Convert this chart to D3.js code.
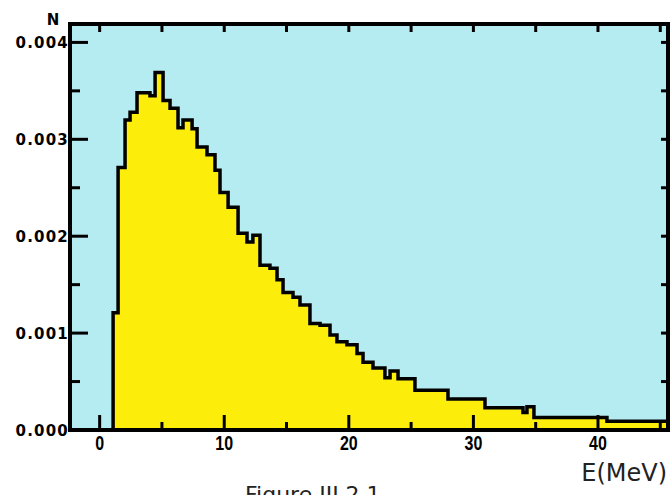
<!DOCTYPE html>
<html>
<head>
<meta charset="utf-8">
<script src="https://cdn.jsdelivr.net/npm/d3@7/dist/d3.min.js"></script>
<style>
  html, body { margin: 0; padding: 0; background: #ffffff; }
  svg { display: block; }
</style>
</head>
<body>
<svg id="chart" width="670" height="495"></svg>
<script>
// Energy spectrum: bin edges (MeV) and normalised counts per bin
const binEdges = [1.08, 1.48, 2.04, 2.44, 3.00, 4.04, 4.45, 5.09, 5.65, 6.29,
                  6.69, 7.42, 7.82, 8.62, 9.26, 9.66, 10.31, 11.11, 11.83, 12.30,
                  12.87, 13.67, 14.24, 14.72, 15.52, 16.08, 16.88, 17.69, 18.49, 19.05,
                  19.85, 20.66, 21.14, 21.94, 22.90, 23.31, 23.95, 25.31, 27.96, 30.93,
                  33.98, 34.30, 34.86, 40.72, 46.00];
const binCounts = [0.00121, 0.00271, 0.00320, 0.00328, 0.00348, 0.00345, 0.00369, 0.00340, 0.00332, 0.00312,
                   0.00320, 0.00311, 0.00292, 0.00284, 0.00268, 0.00245, 0.00230, 0.00203, 0.00194, 0.00201,
                   0.00170, 0.00167, 0.00155, 0.00142, 0.00137, 0.00129, 0.00110, 0.00108, 0.00098, 0.00091,
                   0.00088, 0.00079, 0.00070, 0.00064, 0.00054, 0.00061, 0.00053, 0.00041, 0.00032, 0.00023,
                   0.00018, 0.00024, 0.00013, 0.00009];

// Axis ticks and labels
const xMajorTicks = [0, 10, 20, 30, 40];
const xTickLabels = ["0", "10", "20", "30", "40"];
const xMinorTicks = [5, 15, 25, 35, 45];
const xTopTicks = [0, 5, 10, 15, 20, 25, 30, 35, 40, 45];
const yMajorTicks = [0, 0.001, 0.002, 0.003, 0.004];
const yTickLabels = ["0.000", "0.001", "0.002", "0.003", "0.004"];
const yMinorTicks = [0.0005, 0.0015, 0.0025, 0.0035];
const yAllTicks = [0.0005, 0.001, 0.0015, 0.002, 0.0025, 0.003, 0.0035, 0.004];

const yAxisTitle = "N";
const xAxisTitle = "E(MeV)";
const caption = "Figure III.2.1";

const svg = d3.select("#chart");
const plot = { left: 70, top: 24, right: 668, bottom: 430 };

const x = d3.scaleLinear().domain([-2.38, 45.62]).range([plot.left, plot.right]);
const y = d3.scaleLinear().domain([0, 0.00419]).range([plot.bottom, plot.top]);

// Plot background
svg.append("rect")
  .attr("x", plot.left).attr("y", plot.top)
  .attr("width", plot.right - plot.left).attr("height", plot.bottom - plot.top)
  .attr("fill", "#b5ecf1");

svg.append("clipPath").attr("id", "plotClip")
  .append("rect")
  .attr("x", plot.left).attr("y", plot.top)
  .attr("width", plot.right - plot.left).attr("height", plot.bottom - plot.top);

// Step points: one per bin plus the closing edge
const steps = binCounts.map((v, i) => [binEdges[i], v]);
steps.push([binEdges[binEdges.length - 1], binCounts[binCounts.length - 1]]);

const area = d3.area()
  .x(d => x(d[0])).y0(y(0)).y1(d => y(d[1]))
  .curve(d3.curveStepAfter);

const line = d3.line()
  .x(d => x(d[0])).y(d => y(d[1]))
  .curve(d3.curveStepAfter);

const g = svg.append("g").attr("clip-path", "url(#plotClip)");
g.append("path").datum(steps).attr("d", area).attr("fill", "#fcee0a");
g.append("path").datum([[binEdges[0], 0]].concat(steps))
  .attr("d", line)
  .attr("fill", "none").attr("stroke", "#000").attr("stroke-width", 3.5)
  .attr("stroke-linejoin", "miter");

// Ticks (all pointing into the plot)
const ticks = svg.append("g").attr("stroke", "#000").attr("stroke-width", 3);
ticks.selectAll(".xmaj").data(xMajorTicks).join("line")
  .attr("x1", d => x(d)).attr("x2", d => x(d))
  .attr("y1", plot.bottom).attr("y2", plot.bottom - 15);
ticks.selectAll(".xmin").data(xMinorTicks).join("line")
  .attr("x1", d => x(d)).attr("x2", d => x(d))
  .attr("y1", plot.bottom).attr("y2", plot.bottom - 8);
ticks.selectAll(".xtop").data(xTopTicks).join("line")
  .attr("x1", d => x(d)).attr("x2", d => x(d))
  .attr("y1", plot.top).attr("y2", plot.top + 8);
ticks.selectAll(".ymaj").data(yMajorTicks).join("line")
  .attr("x1", plot.left).attr("x2", plot.left + 18)
  .attr("y1", d => y(d)).attr("y2", d => y(d));
ticks.selectAll(".ymin").data(yMinorTicks).join("line")
  .attr("x1", plot.left).attr("x2", plot.left + 10)
  .attr("y1", d => y(d)).attr("y2", d => y(d));
ticks.selectAll(".yright").data(yAllTicks).join("line")
  .attr("x1", plot.right).attr("x2", plot.right - 7)
  .attr("y1", d => y(d)).attr("y2", d => y(d));

// Frame
svg.append("rect")
  .attr("x", plot.left).attr("y", plot.top)
  .attr("width", plot.right - plot.left).attr("height", plot.bottom - plot.top)
  .attr("fill", "none").attr("stroke", "#000").attr("stroke-width", 4);

// Tick labels
svg.append("g").selectAll("text").data(yMajorTicks).join("text")
  .attr("x", plot.left - 1).attr("y", d => y(d) + 5.5)
  .attr("text-anchor", "end")
  .attr("font-family", "DejaVu Sans, sans-serif")
  .attr("font-weight", "bold").attr("font-size", 15)
  .attr("letter-spacing", 1.2)
  .attr("fill", "#000")
  .text((d, i) => yTickLabels[i]);

svg.append("g").selectAll("text").data(xMajorTicks).join("text")
  .attr("transform", d => `translate(${x(d)},450) scale(0.8,1)`)
  .attr("text-anchor", "middle")
  .attr("font-family", "Liberation Sans, Arial, sans-serif")
  .attr("font-weight", "bold").attr("font-size", 20)
  .attr("fill", "#000")
  .text((d, i) => xTickLabels[i]);

// Axis titles and caption
svg.append("text").attr("x", 53).attr("y", 25)
  .attr("text-anchor", "middle")
  .attr("font-family", "DejaVu Sans, sans-serif")
  .attr("font-weight", "bold").attr("font-size", 15)
  .text(yAxisTitle);

svg.append("text").attr("x", 667).attr("y", 481)
  .attr("text-anchor", "end")
  .attr("font-family", "DejaVu Sans, sans-serif")
  .attr("font-size", 24).attr("fill", "#222")
  .text(xAxisTitle);

svg.append("text").attr("x", 245).attr("y", 502)
  .attr("font-family", "DejaVu Sans, sans-serif")
  .attr("font-size", 22).attr("fill", "#222")
  .text(caption);
</script>
</body>
</html>
